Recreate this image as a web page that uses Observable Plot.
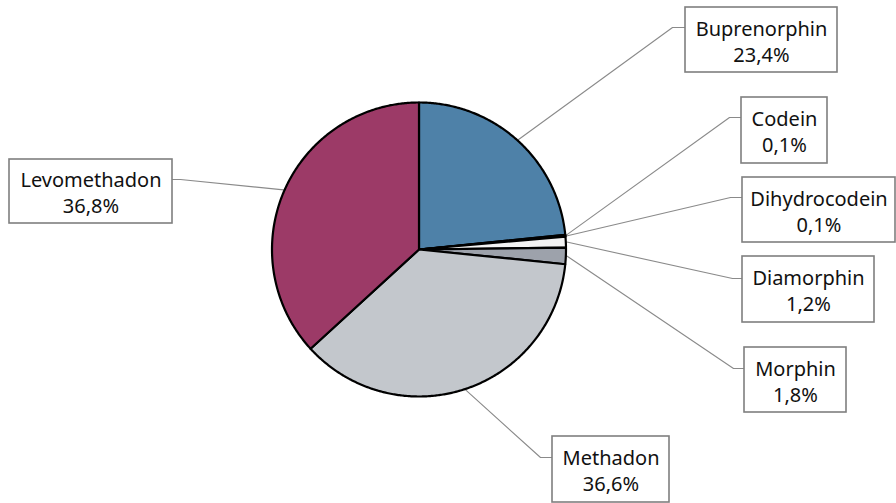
<!DOCTYPE html>
<html>
<head>
<meta charset="utf-8">
<script src="https://cdn.jsdelivr.net/npm/d3@7"></script>
<script src="https://cdn.jsdelivr.net/npm/@observablehq/plot@0.6"></script>
<style>
  html, body { margin: 0; padding: 0; background: #ffffff; }
  #chart { width: 896px; height: 503px; }
</style>
</head>
<body>
<div id="chart"></div>
<script>
// Substitution substances and their share (%)
const drugs = ["Buprenorphin", "Codein", "Dihydrocodein", "Diamorphin", "Morphin", "Methadon", "Levomethadon"];
const shares = [23.4, 0.1, 0.1, 1.2, 1.8, 36.6, 36.8];
const sliceColors = ["#4e81a8", "#1e2a36", "#e9ebee", "#f3f3f3", "#9da2ab", "#c3c7cc", "#9c3a67"];

// Layout (pixels)
const W = 896, H = 503;
const cx = 418.5, cy = 249, R = 147;
// callout boxes: [left, top, right, bottom]
const calloutBoxes = [
  [685, 7, 837, 72],
  [741, 97, 827, 163],
  [742, 177, 895, 242],
  [742, 256, 874, 322],
  [744, 347, 846, 412],
  [552, 436, 669, 502],
  [9, 159, 172, 223]
];
// bend of each leader line before it meets its box
const calloutKnees = [[672, 27], [729, 117], [730, 197], [732, 278], [733, 368], [540, 457], [180, 179]];

const fmtPct = v => v.toFixed(1).replace(".", ",") + "%";

// Pie slices as closed polygons
const arcs = d3.pie().sort(null).value(d => d)(shares);
const slicePts = arcs.flatMap((a, i) => {
  const span = a.endAngle - a.startAngle;
  const n = Math.max(2, Math.ceil(span / (Math.PI / 360)));
  const pts = [{name: drugs[i], x: cx, y: cy}];
  for (let k = 0; k <= n; k++) {
    const t = a.startAngle + span * k / n;
    pts.push({name: drugs[i], x: cx + R * Math.sin(t), y: cy - R * Math.cos(t)});
  }
  pts.push({name: drugs[i], x: cx, y: cy});
  return pts;
});

// Leader lines: slice mid-angle on the rim -> bend -> box edge
const leaderPts = arcs.flatMap((a, i) => {
  const m = (a.startAngle + a.endAngle) / 2;
  const [l, t, r, b] = calloutBoxes[i];
  const [kx, ky] = calloutKnees[i];
  const edgeX = kx < cx ? r : l;
  return [
    {name: drugs[i], x: cx + (R + 1) * Math.sin(m), y: cy - (R + 1) * Math.cos(m)},
    {name: drugs[i], x: kx, y: ky},
    {name: drugs[i], x: edgeX, y: ky}
  ];
});

const labels = drugs.map((d, i) => {
  const [l, t, r, b] = calloutBoxes[i];
  return {name: d, text: d + "\n" + fmtPct(shares[i]), x1: l, y1: t, x2: r, y2: b, x: (l + r) / 2, y: (t + b) / 2 + 0.5};
});

const chart = Plot.plot({
  width: W,
  height: H,
  margin: 0,
  x: {domain: [0, W], range: [0, W], axis: null},
  y: {domain: [0, H], range: [0, H], axis: null},
  color: {domain: drugs, range: sliceColors},
  style: {fontFamily: "'Noto Sans', sans-serif", background: "#ffffff"},
  marks: [
    Plot.line(leaderPts, {x: "x", y: "y", z: "name", stroke: "#8a8a8a", strokeWidth: 1.1}),
    Plot.line(slicePts, {x: "x", y: "y", z: "name", fill: "name", stroke: "#000000", strokeWidth: 2.2, strokeLinejoin: "round"}),
    Plot.rect(labels, {x1: "x1", x2: "x2", y1: "y1", y2: "y2", fill: "#ffffff", stroke: "#7f7f7f", strokeWidth: 1.6}),
    Plot.text(labels, {x: "x", y: "y", text: "text", fontSize: 20, lineHeight: 1.3, fill: "#111111", fontFamily: "'Noto Sans', sans-serif"})
  ]
});
document.getElementById("chart").appendChild(chart);
</script>
</body>
</html>
